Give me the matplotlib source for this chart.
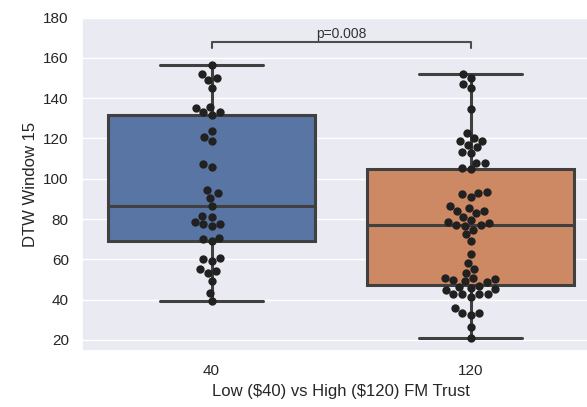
import matplotlib
matplotlib.use("Agg")
import matplotlib.pyplot as plt
import seaborn as sns
import pandas as pd

categories = ["40", "120"]
low_vals = [156.3, 151.8, 149.9, 149.0, 145.2, 135.3, 135.8, 133.0, 133.0, 131.7,
            123.7, 120.9, 118.8, 107.2, 106.0, 94.4, 92.8, 90.6, 86.5, 81.5,
            81.2, 78.6, 77.4, 76.6, 77.6, 70.1, 69.1, 70.8, 60.2, 59.2,
            60.8, 54.2, 53.1, 55.1, 49.3, 43.5, 39.4]
high_vals = [151.8, 149.9, 146.9, 145.2, 134.4,
             122.6, 120.0, 118.8, 118.5, 116.8, 115.6, 113.5, 112.7, 108.0, 108.0, 105.1, 104.9,
             92.3, 90.8, 92.8, 93.6, 86.6, 84.2, 84.2, 85.3, 82.9, 81.2, 79.6, 77.1, 78.6,
             76.9, 76.7, 78.2, 74.6, 72.6, 69.1,
             62.5, 58.0, 55.1, 53.4, 50.9, 49.3, 48.6, 50.1, 49.8, 50.9, 46.5, 46.0, 47.0,
             45.2, 44.8, 42.7, 41.5, 42.7, 42.7, 42.8, 35.7, 33.2, 32.4, 33.2, 26.6, 20.8]
yticks = [20, 40, 60, 80, 100, 120, 140, 160, 180]
p_text = "p=0.008"
x_label = "Low (\\$40) vs High (\\$120) FM Trust"
y_label = "DTW Window 15"

sns.set_theme(style="darkgrid")
plt.rcParams['font.family'] = ['Liberation Sans', 'DejaVu Sans']

df = pd.DataFrame({
    "trust": [categories[0]] * len(low_vals) + [categories[1]] * len(high_vals),
    "dtw": low_vals + high_vals,
})

W, H = 587, 407
fig = plt.figure(figsize=(W / 100, H / 100), dpi=100)
ax = fig.add_axes([82 / W, 1 - 351 / H, (600 - 82) / W, (351 - 17) / H])

sns.boxplot(data=df, x="trust", y="dtw", order=categories, hue="trust",
            hue_order=categories, palette="deep", legend=False,
            showfliers=False, linewidth=2.2, linecolor="0.25", ax=ax)
sns.swarmplot(data=df, x="trust", y="dtw", order=categories, color="0.13",
              size=6, ax=ax)

# significance bracket
y0, y1 = 165.0, 168.0
ax.plot([0, 0, 1, 1], [y0, y1, y1, y0], color="0.3", lw=1.5)
ax.text(0.5, y1 + 0.5, p_text, ha="center", va="bottom", fontsize=10, color="0.2")

ax.set_xlim(-0.5, 1.5)
ax.set_ylim(14.5, 180.3)
ax.set_yticks(yticks)
ax.tick_params(labelsize=11)
ax.set_xlabel(x_label, fontsize=12)
ax.set_ylabel(y_label, fontsize=12)

fig.savefig("out.png", dpi=100)
